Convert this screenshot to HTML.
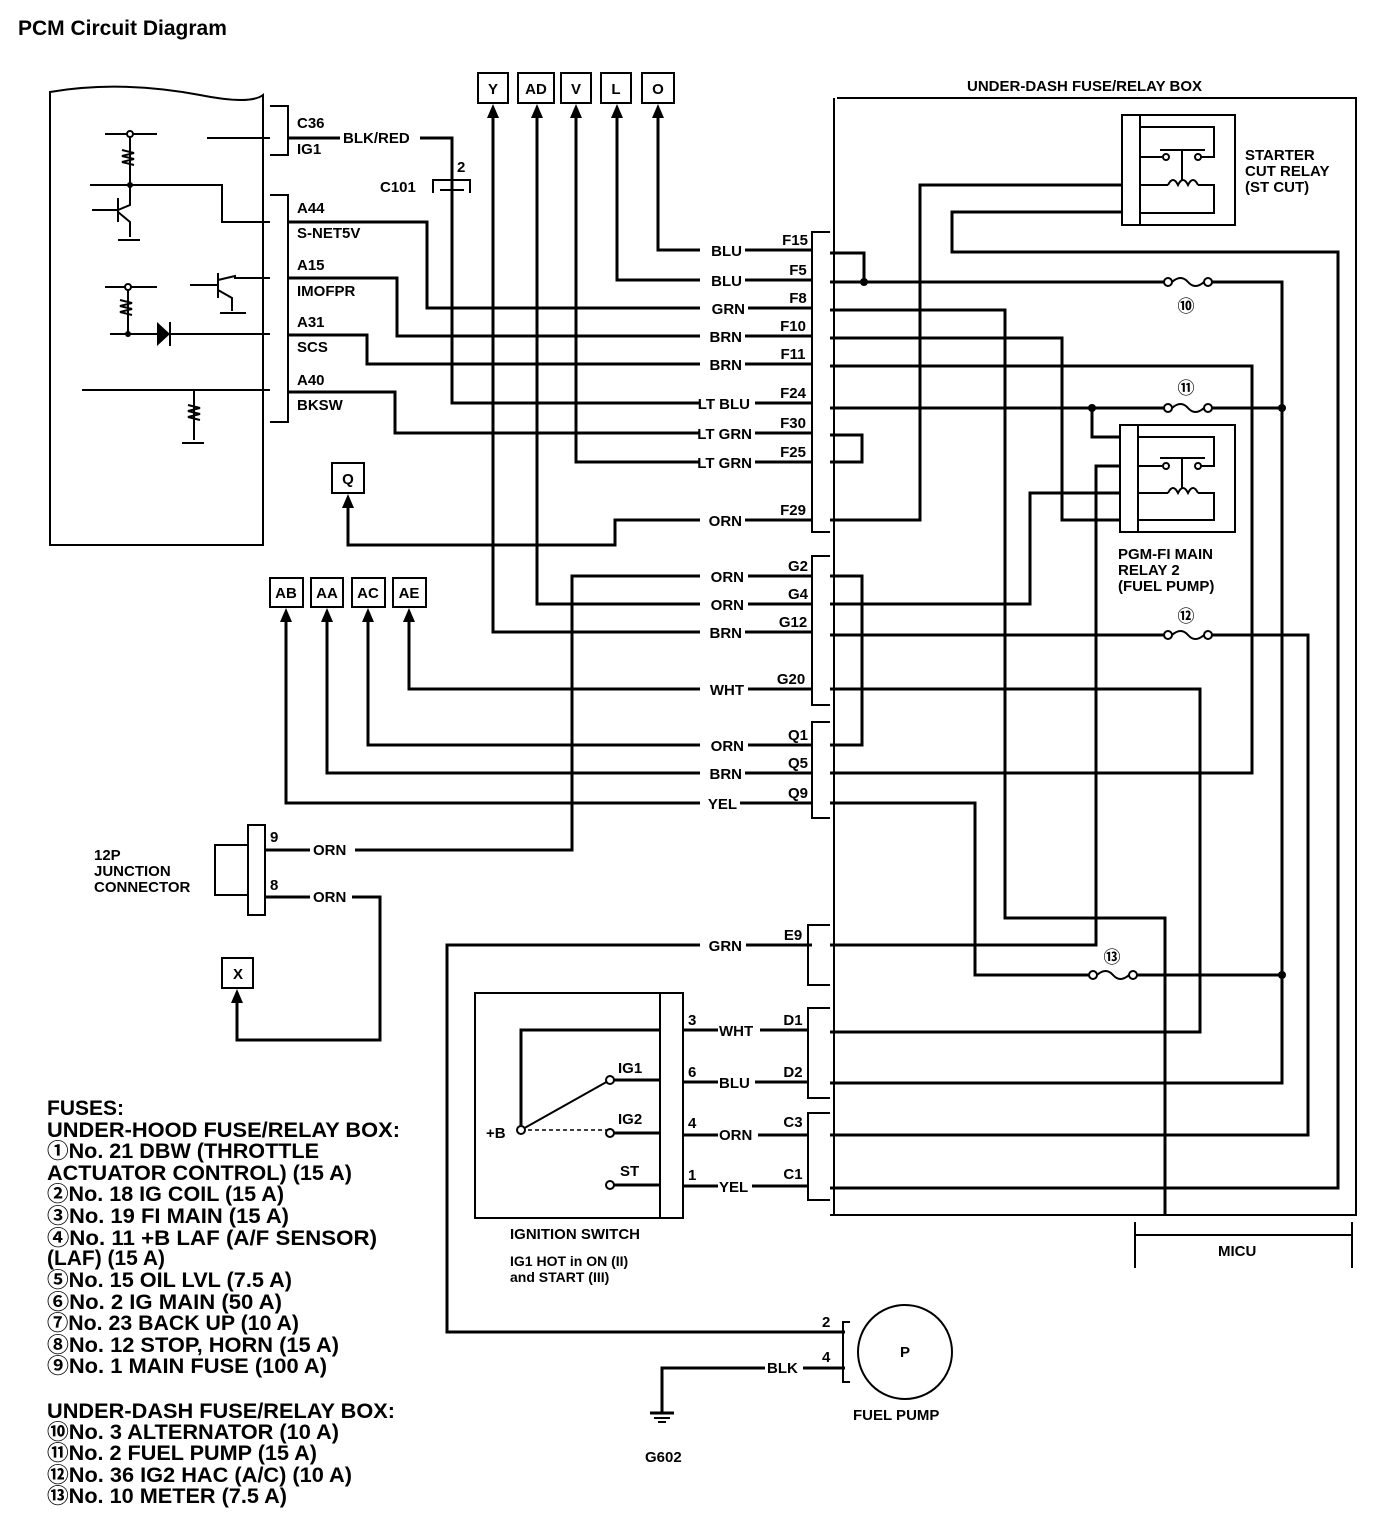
<!DOCTYPE html>
<html><head><meta charset="utf-8"><style>
html,body{margin:0;padding:0;background:#fff;}
svg{display:block;}
text{font-family:"Liberation Sans","Noto Sans CJK JP",sans-serif;font-weight:bold;fill:#000;}
.w{fill:none;stroke:#000;stroke-width:3;}
.t{fill:none;stroke:#000;stroke-width:2;}
.s{font-size:15px;}
.f{font-size:21px;}
</style></head><body>
<svg width="1392" height="1536" viewBox="0 0 1392 1536" xmlns="http://www.w3.org/2000/svg">
<text x="18" y="35" style="font-size:21px">PCM Circuit Diagram</text>

<!-- PCM body -->
<path class="t" d="M50,545 L50,92 Q120,80 200,95 Q250,105 263,95 L263,545 Z"/>
<g class="t">
<path d="M105,134 H157 M130,134 V198 M90,185 H222 V222 H270"/>
<path d="M130,198 V205 L118,210 M92,210 H118 M118,198 V222 M118,212 L130,222 V237 M118,240 H140"/>
<path d="M190,285 H218 M218,273 V298 M218,280 L235,276 V278 H270 M218,290 L232,298 V311 M220,313 H246"/>
<path d="M105,287 H157 M128,287 V334 M110,334 H270"/>
<path d="M82,390 H270 M194,390 V440 M182,443 H204"/>
<path d="M207,138 H270"/>
</g>
<circle cx="130" cy="134" r="3" fill="#fff" stroke="#000" stroke-width="2"/>
<circle cx="128" cy="287" r="3" fill="#fff" stroke="#000" stroke-width="2"/>
<circle cx="130" cy="185" r="3"/><circle cx="128" cy="334" r="3"/>
<path d="M157,322 L170,334 L157,346 Z"/><path d="M170,322 V346" class="t"/>
<path d="M122,150 l12,3 -12,3 12,3 -12,3 12,3 M120,300 l12,3 -12,3 12,3 -12,3 12,3 M188,405 l12,3 -12,3 12,3 -12,3 12,3" class="t"/>

<!-- PCM connectors -->
<path class="t" d="M270,106 H288 V155 H270 M270,195 H288 V422 H270"/>
<text class="s" x="297" y="128">C36</text><text class="s" x="297" y="154">IG1</text>
<text class="s" x="297" y="213">A44</text><text class="s" x="297" y="238">S-NET5V</text>
<text class="s" x="297" y="270">A15</text><text class="s" x="297" y="296">IMOFPR</text>
<text class="s" x="297" y="327">A31</text><text class="s" x="297" y="352">SCS</text>
<text class="s" x="297" y="385">A40</text><text class="s" x="297" y="410">BKSW</text>
<path class="w" d="M288,138 H340"/><text class="s" x="343" y="143">BLK/RED</text>
<path class="w" d="M420,138 H452 V403 H700"/>
<path class="t" d="M433,193 V180 H470 V193 M440,190 H464"/>
<text class="s" x="457" y="172">2</text><text class="s" x="380" y="192">C101</text>
<path class="w" d="M288,222 H427 V308 H700 M288,278 H397 V336 H700 M288,335 H367 V364 H700 M288,392 H395 V433 H700"/>

<!-- top boxes -->
<g class="t">
<rect x="478" y="73" width="30" height="30"/><rect x="518" y="73" width="36" height="30"/><rect x="561" y="73" width="30" height="30"/><rect x="601" y="73" width="30" height="30"/><rect x="642" y="73" width="32" height="30"/>
</g>
<text class="s" x="493" y="94" text-anchor="middle">Y</text><text class="s" x="536" y="94" text-anchor="middle">AD</text><text class="s" x="576" y="94" text-anchor="middle">V</text><text class="s" x="616" y="94" text-anchor="middle">L</text><text class="s" x="658" y="94" text-anchor="middle">O</text>
<path class="w" d="M658,117 V250 H700 M617,117 V280 H700 M576,117 V462 H700 M537,117 V604 H700 M493,117 V632 H700"/>
<g><path d="M652,118 L658,104 L664,118Z M611,118 L617,104 L623,118Z M570,118 L576,104 L582,118Z M531,118 L537,104 L543,118Z M487,118 L493,104 L499,118Z"/></g>

<!-- wire labels -->
<g class="s" text-anchor="end">
<text x="742" y="256">BLU</text><text x="742" y="286">BLU</text><text x="745" y="314">GRN</text><text x="742" y="342">BRN</text><text x="742" y="370">BRN</text><text x="750" y="409">LT BLU</text><text x="752" y="439">LT GRN</text><text x="752" y="468">LT GRN</text><text x="742" y="526">ORN</text><text x="744" y="582">ORN</text><text x="744" y="610">ORN</text><text x="742" y="638">BRN</text><text x="744" y="695">WHT</text><text x="744" y="751">ORN</text><text x="742" y="779">BRN</text><text x="737" y="809">YEL</text><text x="742" y="951">GRN</text>
</g>
<path class="w" d="M745,250 H812 M745,280 H812 M748,308 H812 M745,336 H812 M745,364 H812 M755,403 H812 M755,433 H812 M755,462 H812 M745,520 H812 M748,576 H812 M748,604 H812 M745,632 H812 M748,689 H812 M748,745 H812 M745,773 H812 M740,803 H812 M746,945 H812"/>
<g class="s" text-anchor="middle">
<text x="795" y="245">F15</text><text x="798" y="275">F5</text><text x="798" y="303">F8</text><text x="793" y="331">F10</text><text x="793" y="359">F11</text><text x="793" y="398">F24</text><text x="793" y="428">F30</text><text x="793" y="457">F25</text><text x="793" y="515">F29</text><text x="798" y="571">G2</text><text x="798" y="599">G4</text><text x="793" y="627">G12</text><text x="791" y="684">G20</text><text x="798" y="740">Q1</text><text x="798" y="768">Q5</text><text x="798" y="798">Q9</text><text x="793" y="940">E9</text>
<text x="793" y="1025">D1</text><text x="793" y="1077">D2</text><text x="793" y="1127">C3</text><text x="793" y="1179">C1</text>
</g>
<path class="t" d="M830,232 H812 V532 H830 M830,556 H812 V705 H830 M830,722 H812 V818 H830 M830,925 H808 V985 H830 M830,1008 H808 V1098 H830 M830,1113 H808 V1200 H830"/>

<!-- Q -->
<rect class="t" x="332" y="463" width="32" height="30"/><text class="s" x="348" y="484" text-anchor="middle">Q</text>
<path class="w" d="M700,520 H615 V545 H348 V508"/><path d="M342,508 L348,494 L354,508Z"/>
<g class="t"><rect x="270" y="578" width="33" height="29"/><rect x="311" y="578" width="32" height="29"/><rect x="352" y="578" width="33" height="29"/><rect x="393" y="578" width="33" height="29"/></g>
<text class="s" x="286" y="598" text-anchor="middle">AB</text><text class="s" x="327" y="598" text-anchor="middle">AA</text><text class="s" x="368" y="598" text-anchor="middle">AC</text><text class="s" x="409" y="598" text-anchor="middle">AE</text>
<path class="w" d="M409,622 V689 H700 M368,622 V745 H700 M327,622 V773 H700 M286,622 V803 H700 M700,576 H572 V850 H355"/>
<path d="M403,622 L409,608 L415,622Z M362,622 L368,608 L374,622Z M321,622 L327,608 L333,622Z M280,622 L286,608 L292,622Z"/>

<!-- junction connector -->
<path class="t" d="M248,825 H265 V915 H248 Z M248,845 H215 V895 H248"/>
<path class="w" d="M265,850 H310 M265,897 H310 M352,897 H380 V1040 H237 V1002"/>
<path d="M231,1003 L237,989 L243,1003Z"/>
<text class="s" x="270" y="842">9</text><text class="s" x="270" y="890">8</text>
<text class="s" x="313" y="855">ORN</text><text class="s" x="313" y="902">ORN</text>
<text class="s" x="94" y="860">12P</text><text class="s" x="94" y="876">JUNCTION</text><text class="s" x="94" y="892">CONNECTOR</text>
<rect class="t" x="222" y="958" width="31" height="30"/><text class="s" x="238" y="979" text-anchor="middle">X</text>

<!-- E9 to fuel pump -->
<path class="w" d="M700,945 H447 V1332 H845"/>
<path class="t" d="M850,1322 H843 V1382 H850"/>
<circle cx="905" cy="1352" r="47" class="t"/>
<text class="s" x="905" y="1357" text-anchor="middle">P</text>
<text class="s" x="822" y="1327">2</text><text class="s" x="822" y="1362">4</text>
<path class="w" d="M845,1368 H803 M765,1368 H662 V1412"/><text class="s" x="767" y="1373">BLK</text>
<path class="w" d="M650,1413 H674"/><path class="t" d="M654,1418 H670 M658,1422 H666"/>
<text class="s" x="645" y="1462">G602</text>
<text class="s" x="853" y="1420">FUEL PUMP</text>

<!-- ignition switch -->
<rect class="t" x="475" y="993" width="185" height="225"/>
<path class="t" d="M660,993 H683 V1218 H660"/>
<path class="w" d="M660,1030 H521 V1128 M610,1080 H660 M610,1133 H660 M610,1185 H660 M683,1030 H718 M683,1082 H718 M683,1135 H718 M683,1186 H718 M760,1030 H808 M755,1082 H808 M758,1135 H808 M752,1186 H808"/>
<path class="t" d="M521,1130 L610,1080"/><path d="M521,1130 H610" stroke="#000" stroke-width="1.5" stroke-dasharray="4,3"/>
<circle cx="521" cy="1130" r="4" fill="#fff" stroke="#000" stroke-width="2"/>
<circle cx="610" cy="1080" r="4" fill="#fff" stroke="#000" stroke-width="2"/>
<circle cx="610" cy="1133" r="4" fill="#fff" stroke="#000" stroke-width="2"/>
<circle cx="610" cy="1185" r="4" fill="#fff" stroke="#000" stroke-width="2"/>
<text class="s" x="486" y="1138">+B</text>
<text class="s" x="618" y="1073">IG1</text><text class="s" x="618" y="1124">IG2</text><text class="s" x="620" y="1176">ST</text>
<text class="s" x="688" y="1025">3</text><text class="s" x="688" y="1077">6</text><text class="s" x="688" y="1128">4</text><text class="s" x="688" y="1180">1</text>
<text class="s" x="719" y="1036">WHT</text><text class="s" x="719" y="1088">BLU</text><text class="s" x="719" y="1140">ORN</text><text class="s" x="719" y="1192">YEL</text>
<text class="s" x="510" y="1239">IGNITION SWITCH</text>
<text style="font-size:14px" x="510" y="1266">IG1 HOT in ON (II)</text>
<text style="font-size:14px" x="510" y="1282">and START (III)</text>

<!-- under-dash box -->
<text class="s" x="967" y="91">UNDER-DASH FUSE/RELAY BOX</text>
<path class="t" d="M837,98 H1356 V1215 H830 M834,98 V1215"/>
<path class="t" d="M1135,1222 V1268 M1352,1222 V1268 M1135,1235 H1352"/>
<text class="s" x="1218" y="1256">MICU</text>

<!-- relays -->
<g class="t">
<rect x="1122" y="115" width="113" height="110"/><path d="M1140,115 V225"/>
<rect x="1120" y="425" width="115" height="107"/><path d="M1138,425 V532"/>
<path d="M1140,127 H1214 V157 H1198 M1140,157 H1162 M1160,150 H1205 M1182,150 V180 M1140,185 H1168 M1168,185 q5,-10 10,0 q5,-10 10,0 q5,-10 10,0 M1198,185 H1214 V213 H1140"/>
<path d="M1138,437 H1214 V466 H1198 M1138,466 H1162 M1160,458 H1205 M1182,458 V488 M1138,493 H1168 M1168,493 q5,-10 10,0 q5,-10 10,0 q5,-10 10,0 M1198,493 H1214 V520 H1138"/>
</g>
<circle cx="1166" cy="157" r="3" fill="#fff" stroke="#000" stroke-width="2"/><circle cx="1198" cy="157" r="3" fill="#fff" stroke="#000" stroke-width="2"/>
<circle cx="1166" cy="466" r="3" fill="#fff" stroke="#000" stroke-width="2"/><circle cx="1198" cy="466" r="3" fill="#fff" stroke="#000" stroke-width="2"/>
<text class="s" x="1245" y="160">STARTER</text><text class="s" x="1245" y="176">CUT RELAY</text><text class="s" x="1245" y="192">(ST CUT)</text>
<text class="s" x="1118" y="559">PGM-FI MAIN</text><text class="s" x="1118" y="575">RELAY 2</text><text class="s" x="1118" y="591">(FUEL PUMP)</text>

<!-- right wiring -->
<path class="w" d="M830,253 H864 V282 M830,282 H1165 M1208,282 H1282 V1083 H830
M830,310 H1005 V918 H1165 V1215
M830,338 H1062 V520 H1120
M830,366 H1252 V773 H830
M830,408 H1165 M1208,408 H1282 M1092,408 V437 H1120
M830,435 H862 V462 H830
M830,520 H920 V185 H1122
M1122,212 H952 V252 H1338 V1188 H830
M1120,466 H1096 V945 H830
M830,604 H1030 V493 H1120
M830,635 H1165 M1208,635 H1308 V1135 H830
M830,576 H862 V745 H830
M830,689 H1200 V1032 H830
M830,803 H975 V975 H1090 M1135,975 H1282"/>
<circle cx="864" cy="282" r="4"/><circle cx="1092" cy="408" r="4"/><circle cx="1282" cy="408" r="4"/><circle cx="1282" cy="975" r="4"/>
<g class="t" fill="#fff">
<path d="M1172,282 q9,-8 16,0 q7,8 16,0"/><circle cx="1168" cy="282" r="4" fill="#fff"/><circle cx="1208" cy="282" r="4" fill="#fff"/>
<path d="M1172,408 q9,-8 16,0 q7,8 16,0"/><circle cx="1168" cy="408" r="4" fill="#fff"/><circle cx="1208" cy="408" r="4" fill="#fff"/>
<path d="M1172,635 q9,-8 16,0 q7,8 16,0"/><circle cx="1168" cy="635" r="4" fill="#fff"/><circle cx="1208" cy="635" r="4" fill="#fff"/>
<path d="M1097,975 q9,-8 16,0 q7,8 16,0"/><circle cx="1093" cy="975" r="4" fill="#fff"/><circle cx="1133" cy="975" r="4" fill="#fff"/>
</g>
<g style="font-size:17px;font-weight:normal" text-anchor="middle">
<text x="1186" y="312">⑩</text><text x="1186" y="394">⑪</text><text x="1186" y="622">⑫</text><text x="1112" y="963">⑬</text>
</g>

<!-- fuse list -->
<g class="f">
<text x="47" y="1115">FUSES:</text>
<text x="47" y="1137" textLength="353" lengthAdjust="spacingAndGlyphs">UNDER-HOOD FUSE/RELAY BOX:</text>
<text x="47" y="1158" textLength="272" lengthAdjust="spacingAndGlyphs">①No. 21 DBW (THROTTLE</text>
<text x="47" y="1180" textLength="305" lengthAdjust="spacingAndGlyphs">ACTUATOR CONTROL) (15 A)</text>
<text x="47" y="1201" textLength="237" lengthAdjust="spacingAndGlyphs">②No. 18 IG COIL (15 A)</text>
<text x="47" y="1223" textLength="242" lengthAdjust="spacingAndGlyphs">③No. 19 FI MAIN (15 A)</text>
<text x="47" y="1245" textLength="330" lengthAdjust="spacingAndGlyphs">④No. 11 +B LAF (A/F SENSOR)</text>
<text x="47" y="1265" textLength="118" lengthAdjust="spacingAndGlyphs">(LAF) (15 A)</text>
<text x="47" y="1287" textLength="245" lengthAdjust="spacingAndGlyphs">⑤No. 15 OIL LVL (7.5 A)</text>
<text x="47" y="1309" textLength="235" lengthAdjust="spacingAndGlyphs">⑥No. 2 IG MAIN (50 A)</text>
<text x="47" y="1330" textLength="252" lengthAdjust="spacingAndGlyphs">⑦No. 23 BACK UP (10 A)</text>
<text x="47" y="1352" textLength="292" lengthAdjust="spacingAndGlyphs">⑧No. 12 STOP, HORN (15 A)</text>
<text x="47" y="1373" textLength="280" lengthAdjust="spacingAndGlyphs">⑨No. 1 MAIN FUSE (100 A)</text>
<text x="47" y="1418" textLength="348" lengthAdjust="spacingAndGlyphs">UNDER-DASH FUSE/RELAY BOX:</text>
<text x="47" y="1439" textLength="292" lengthAdjust="spacingAndGlyphs">⑩No. 3 ALTERNATOR (10 A)</text>
<text x="47" y="1460" textLength="270" lengthAdjust="spacingAndGlyphs">⑪No. 2 FUEL PUMP (15 A)</text>
<text x="47" y="1482" textLength="305" lengthAdjust="spacingAndGlyphs">⑫No. 36 IG2 HAC (A/C) (10 A)</text>
<text x="47" y="1503" textLength="240" lengthAdjust="spacingAndGlyphs">⑬No. 10 METER (7.5 A)</text>
</g>
</svg>
</body></html>
